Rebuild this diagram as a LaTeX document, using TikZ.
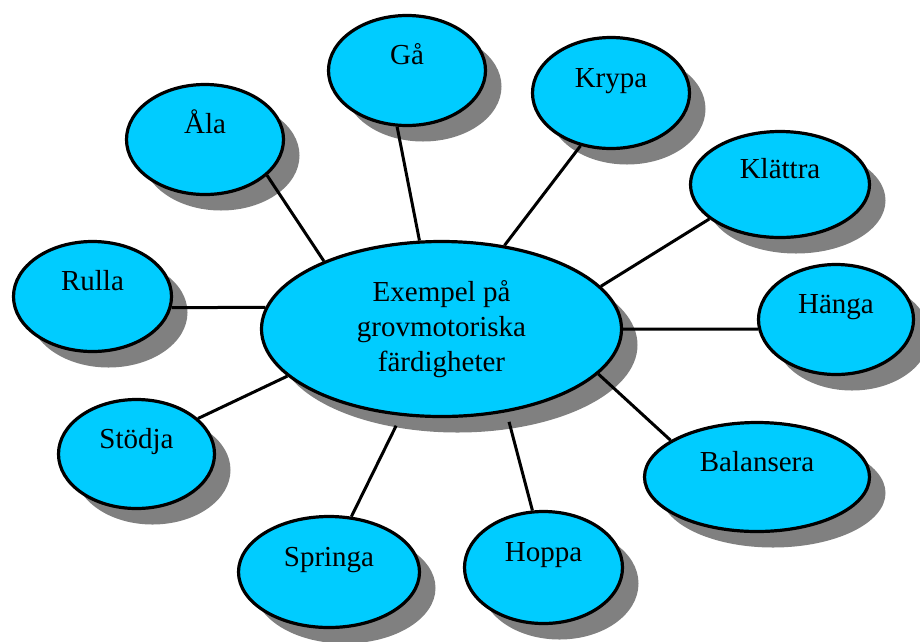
\documentclass[tikz,border=0pt]{standalone}
\usepackage{fontspec}
\setmainfont{Liberation Serif}
\usetikzlibrary{shapes.geometric,shadows}
\definecolor{bubblecyan}{HTML}{00CCFF}
\definecolor{shadowgray}{HTML}{808080}

\begin{document}
\begin{tikzpicture}[x=1pt, y=-1pt,
    oval/.style={ellipse, draw=black, line width=3.2pt, fill=bubblecyan, inner sep=0pt,
        font=\fontsize{29}{35}\selectfont,
        drop shadow={shadow xshift=16pt, shadow yshift=-16pt, fill=shadowgray, opacity=1}},
    bubble/.style={oval, text height=0pt, text depth=12pt},
    link/.style={line width=3pt}]
    \useasboundingbox (0,0) rectangle (920,641);

    \node[oval, align=center, minimum width=360pt, minimum height=175pt] (mitt) at (441.5,329)
        {Exempel på\\grovmotoriska\\färdigheter};

    \node[bubble, minimum width=157pt, minimum height=110pt] (ala) at (205,139.5) {Åla};
    \node[bubble, minimum width=157pt, minimum height=110pt] (ga) at (407,70.5) {Gå};
    \node[bubble, minimum width=157pt, minimum height=111pt] (krypa) at (611,93) {Krypa};
    \node[bubble, minimum width=179pt, minimum height=106pt] (klattra) at (780,184.5) {Klättra};
    \node[bubble, minimum width=158pt, minimum height=110pt] (rulla) at (92.5,296.5) {Rulla};
    \node[bubble, minimum width=155pt, minimum height=110pt] (hanga) at (836,319.5) {Hänga};
    \node[bubble, minimum width=156pt, minimum height=109pt] (stodja) at (136.5,454) {Stödja};
    \node[bubble, minimum width=225pt, minimum height=109pt] (balansera) at (757,477) {Balansera};
    \node[bubble, minimum width=181pt, minimum height=111pt] (springa) at (329,572) {Springa};
    \node[bubble, minimum width=158pt, minimum height=112pt] (hoppa) at (543.5,567.5) {Hoppa};

    \draw[link] (ala.-30) -- (mitt.150);
    \draw[link] (ga.-100) -- (mitt.104);
    \draw[link] (krypa.-120) -- (mitt.53);
    \draw[link] (klattra.-154) -- (mitt.15.5);
    \draw[link] (hanga.-173) -- (mitt.0);
    \draw[link] (balansera.157.6) -- (mitt.-16.8);
    \draw[link, shorten >=10pt] (hoppa.101.3) -- (mitt.-52);
    \draw[link, shorten >=11pt] (springa.68) -- (mitt.-115);
    \draw[link] (stodja.30) -- (mitt.-163.8);
    \draw[link] (rulla.-8.1) -- (mitt.173.4);
\end{tikzpicture}
\end{document}
